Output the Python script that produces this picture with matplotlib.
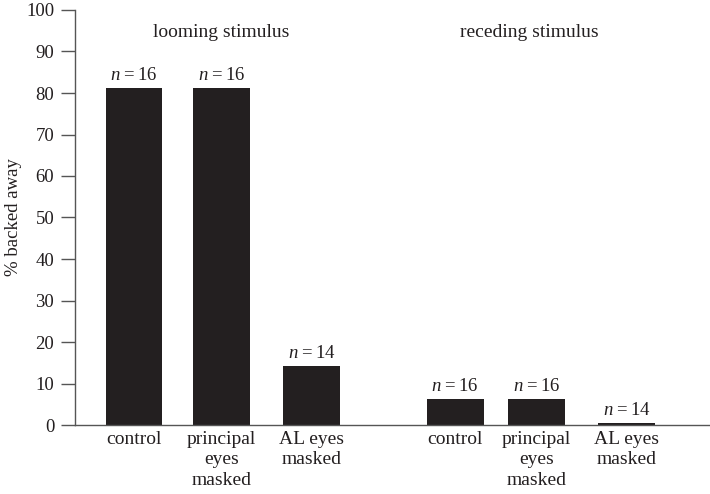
import matplotlib
matplotlib.use("Agg")
import matplotlib.pyplot as plt

plt.rcParams['font.family'] = ['Liberation Serif', 'DejaVu Serif']
plt.rcParams['mathtext.fontset'] = 'custom'
plt.rcParams['mathtext.rm'] = 'Liberation Serif'
plt.rcParams['mathtext.it'] = 'Liberation Serif:italic'

groups = ["looming stimulus", "receding stimulus"]
categories = ["control", "principal\neyes\nmasked", "AL eyes\nmasked",
              "control", "principal\neyes\nmasked", "AL eyes\nmasked"]
values = [81.25, 81.25, 14.3, 6.25, 6.25, 0.6]
n_labels = [16, 16, 14, 16, 16, 14]
positions = [0, 1, 2.03, 3.67, 4.6, 5.63]

ink = '#231f20'
fig = plt.figure(figsize=(7.1, 4.94), dpi=100)
ax = fig.add_axes([75/710, 69/494, 635/710, 415/494])

ax.bar(positions, values, width=0.65, color=ink, edgecolor='none')
for x, v, n in zip(positions, values, n_labels):
    ax.text(x, v + 0.9, r"$n$" + "\u2009=\u2009%d" % n, ha='center', va='bottom',
            fontsize=13.5, color=ink)

ax.text(1.0, 94.6, groups[0], ha='center', va='center', fontsize=14, color=ink)
ax.text(4.52, 94.6, groups[1], ha='center', va='center', fontsize=14, color=ink)

ax.set_xlim(-0.674, 6.58)
ax.set_ylim(0, 100)
ax.set_yticks(range(0, 101, 10))
ax.set_xticks(positions)
ax.set_xticklabels(categories, fontsize=14, color=ink, linespacing=1.3, va='top')
ax.tick_params(axis='x', length=0, pad=4)
ax.tick_params(axis='y', length=10, width=1, color='#555555', labelsize=13.5,
               labelcolor=ink, pad=5)
for s in ['top', 'right']:
    ax.spines[s].set_visible(False)
for s in ['left', 'bottom']:
    ax.spines[s].set_color('#555555')
    ax.spines[s].set_linewidth(1)
ax.set_ylabel("% backed away", fontsize=13.5, color=ink)
ax.yaxis.set_label_coords(-0.083, 0.5)

fig.savefig("out.png", dpi=100)
